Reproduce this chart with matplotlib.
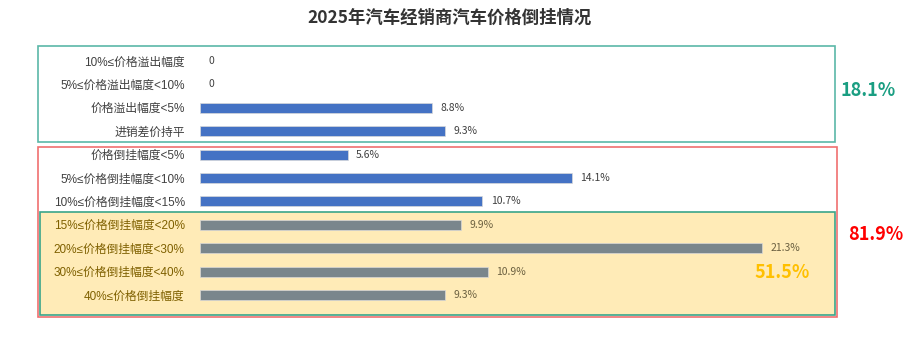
import matplotlib.pyplot as plt
from matplotlib.patches import Rectangle

plt.rcParams['font.family'] = ['Noto Sans CJK SC', 'DejaVu Sans']
label_font = ['Liberation Sans', 'Noto Sans CJK SC']  # narrow ≤ sign

# data (top to bottom)
categories = ['10%≤价格溢出幅度', '5%≤价格溢出幅度<10%', '价格溢出幅度<5%', '进销差价持平',
              '价格倒挂幅度<5%', '5%≤价格倒挂幅度<10%', '10%≤价格倒挂幅度<15%',
              '15%≤价格倒挂幅度<20%', '20%≤价格倒挂幅度<30%', '30%≤价格倒挂幅度<40%', '40%≤价格倒挂幅度']
values = [0, 0, 8.8, 9.3, 5.6, 14.1, 10.7, 9.9, 21.3, 10.9, 9.3]
deep_group = [False] * 7 + [True] * 4
group_totals = ['18.1%', '81.9%', '51.5%']

W, H = 917, 339
fig = plt.figure(figsize=(W / 100, H / 100), dpi=100)

def fx(px):
    return px / W

def fy(py):
    return 1 - py / H

ax = fig.add_axes([fx(200), fy(306.7), fx(620), 257.4 / H])
ax.patch.set_visible(False)
ax.set_zorder(2)

y = list(range(len(categories)))
colors = ['#7A868C' if d else '#4472C4' for d in deep_group]
edge_w = [0.5 if v > 0 else 0 for v in values]
ax.barh(y, values, height=0.43, color=colors, edgecolor='#d9d9d9', linewidth=edge_w)
ax.set_xlim(0, 23.5)
ax.set_ylim(len(categories) - 0.5, -0.5)
ax.set_yticks(y)
ax.set_yticklabels(categories, fontsize=8.5, family=label_font)
for lbl, d in zip(ax.get_yticklabels(), deep_group):
    lbl.set_color('#7F6000' if d else '#404040')
ax.tick_params(axis='y', length=0, pad=11)
ax.set_xticks([])
for s in ax.spines.values():
    s.set_visible(False)

for yi, v, d in zip(y, values, deep_group):
    txt = '0' if v == 0 else f'{v}%'
    ax.annotate(txt, (v, yi), xytext=(6, 0), textcoords='offset points',
                va='center', ha='left', fontsize=7.5,
                color='#6b6040' if d else '#404040')

# group boxes
fig.add_artist(Rectangle((fx(38), fy(142)), fx(797), 96 / H, transform=fig.transFigure,
                         fill=False, edgecolor='#5BB8A8', linewidth=1.2, zorder=3))
fig.add_artist(Rectangle((fx(38), fy(317)), fx(799), 170 / H, transform=fig.transFigure,
                         fill=False, edgecolor='#F07070', linewidth=1.2, zorder=3))
fig.add_artist(Rectangle((fx(40), fy(315)), fx(795), 103 / H, transform=fig.transFigure,
                         facecolor='#FFEBB7', edgecolor='#3AA58A', linewidth=1.2, zorder=1))

fig.text(fx(868), fy(90), group_totals[0], ha='center', va='center', fontsize=13,
         fontweight='bold', color='#1A9E82')
fig.text(fx(876), fy(235), group_totals[1], ha='center', va='center', fontsize=13,
         fontweight='bold', color='#FF0000')
fig.text(fx(782), fy(273), group_totals[2], ha='center', va='center', fontsize=13,
         fontweight='bold', color='#FFC000')

fig.text(0.49, fy(18), '2025年汽车经销商汽车价格倒挂情况', ha='center', va='center',
         fontsize=12.5, fontweight='bold', color='#333333')

fig.savefig('out.png', dpi=100)
